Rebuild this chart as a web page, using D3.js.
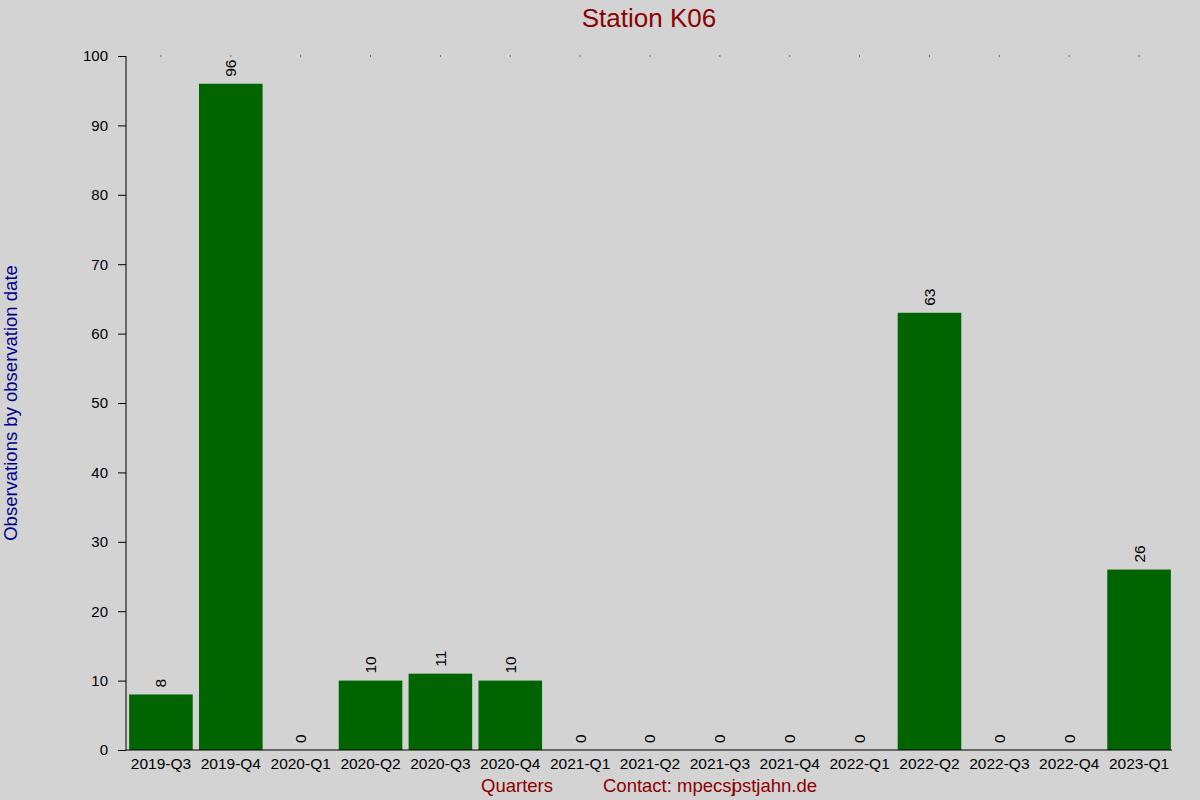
<!DOCTYPE html>
<html>
<head>
<meta charset="utf-8">
<script src="https://cdn.jsdelivr.net/npm/d3@7"></script>
<style>
  body { margin: 0; background: #d3d3d3; }
  svg { display: block; font-family: "Liberation Sans", Arial, sans-serif; }
</style>
</head>
<body>
<div id="chart"></div>
<script>
// Quarterly observation counts
var quarters = ["2019-Q3", "2019-Q4", "2020-Q1", "2020-Q2", "2020-Q3", "2020-Q4",
                "2021-Q1", "2021-Q2", "2021-Q3", "2021-Q4", "2022-Q1", "2022-Q2",
                "2022-Q3", "2022-Q4", "2023-Q1"];
var counts = [8, 96, 0, 10, 11, 10, 0, 0, 0, 0, 0, 63, 0, 0, 26];
var yTicks = [0, 10, 20, 30, 40, 50, 60, 70, 80, 90, 100];

(function () {
  var w = 1200, h = 800;
  var mLeft = 126, mRight = 1174, mTop = 56, mBottom = 750;
  var font = '"Liberation Sans", Arial, sans-serif';

  var svg = d3.select('#chart').append('svg')
      .attr('width', w)
      .attr('height', h);

  svg.append('rect')
      .attr('width', w).attr('height', h)
      .attr('fill', '#d3d3d3');

  var x = d3.scaleBand()
      .domain(quarters)
      .range([mLeft, mRight])
      .paddingInner(0.09)
      .paddingOuter(0.045);

  var y = d3.scaleLinear()
      .domain([0, 100])
      .range([mBottom, mTop]);

  var data = quarters.map(function(q, i) { return { q: q, v: counts[i] }; });

  // bars
  svg.append('g').selectAll('rect')
      .data(data)
      .enter()
      .append('rect')
      .attr('x', function(d) { return x(d.q); })
      .attr('y', function(d) { return y(d.v); })
      .attr('width', x.bandwidth())
      .attr('height', function(d) { return mBottom - y(d.v); })
      .attr('fill', '#006400');

  // value labels, rotated
  svg.append('g').selectAll('text')
      .data(data)
      .enter()
      .append('text')
      .attr('transform', function(d) {
        return 'translate(' + (x(d.q) + x.bandwidth() / 2) + ',' + (y(d.v) - 7) + ') rotate(-90)';
      })
      .attr('dy', '0.35em')
      .attr('font-size', 15.5)
      .attr('fill', '#000')
      .text(function(d) { return d.v; });

  // little dots along the top at each category centre
  svg.append('g').selectAll('rect')
      .data(quarters)
      .enter()
      .append('rect')
      .attr('x', function(d) { return x(d) + x.bandwidth() / 2 - 0.5; })
      .attr('y', mTop - 0.5)
      .attr('width', 1).attr('height', 1)
      .attr('fill', '#000');

  // y axis
  var yAxis = d3.axisLeft(y).tickValues(yTicks).tickSize(8).tickPadding(10);
  var gy = svg.append('g')
      .attr('transform', 'translate(' + mLeft + ',0)')
      .call(yAxis);
  gy.select('.domain').attr('d', 'M0,' + mTop + 'V' + mBottom).attr('stroke', '#000');
  gy.selectAll('.tick line').attr('stroke', '#000');
  gy.selectAll('text').attr('font-size', 15).attr('font-family', font).attr('fill', '#000');

  // x axis
  var xAxis = d3.axisBottom(x).tickSize(0).tickPadding(8);
  var gx = svg.append('g')
      .attr('transform', 'translate(0,' + mBottom + ')')
      .call(xAxis);
  gx.select('.domain').attr('d', 'M' + mLeft + ',0H' + (mRight - 2)).attr('stroke', '#000');
  gx.selectAll('text').attr('font-size', 15.5).attr('font-family', font).attr('fill', '#000');

  // title
  svg.append('text')
      .attr('x', 649).attr('y', 27)
      .attr('text-anchor', 'middle')
      .attr('font-size', 26)
      .attr('fill', '#8b0000')
      .text('Station K06');

  // y label
  svg.append('text')
      .attr('transform', 'translate(17,403) rotate(-90)')
      .attr('text-anchor', 'middle')
      .attr('font-size', 18.5)
      .attr('fill', '#00008b')
      .text('Observations by observation date');

  // x label and contact
  svg.append('text')
      .attr('x', 517).attr('y', 792)
      .attr('text-anchor', 'middle')
      .attr('font-size', 18.5)
      .attr('fill', '#8b0000')
      .text('Quarters');

  var contact = svg.append('text')
      .attr('x', 603).attr('y', 792)
      .attr('font-size', 18.5)
      .attr('fill', '#8b0000');
  contact.append('tspan').text('Contact: mpecsj');
  contact.append('tspan').attr('dx', -4).text('pstjahn.de');
})();
</script>
</body>
</html>
